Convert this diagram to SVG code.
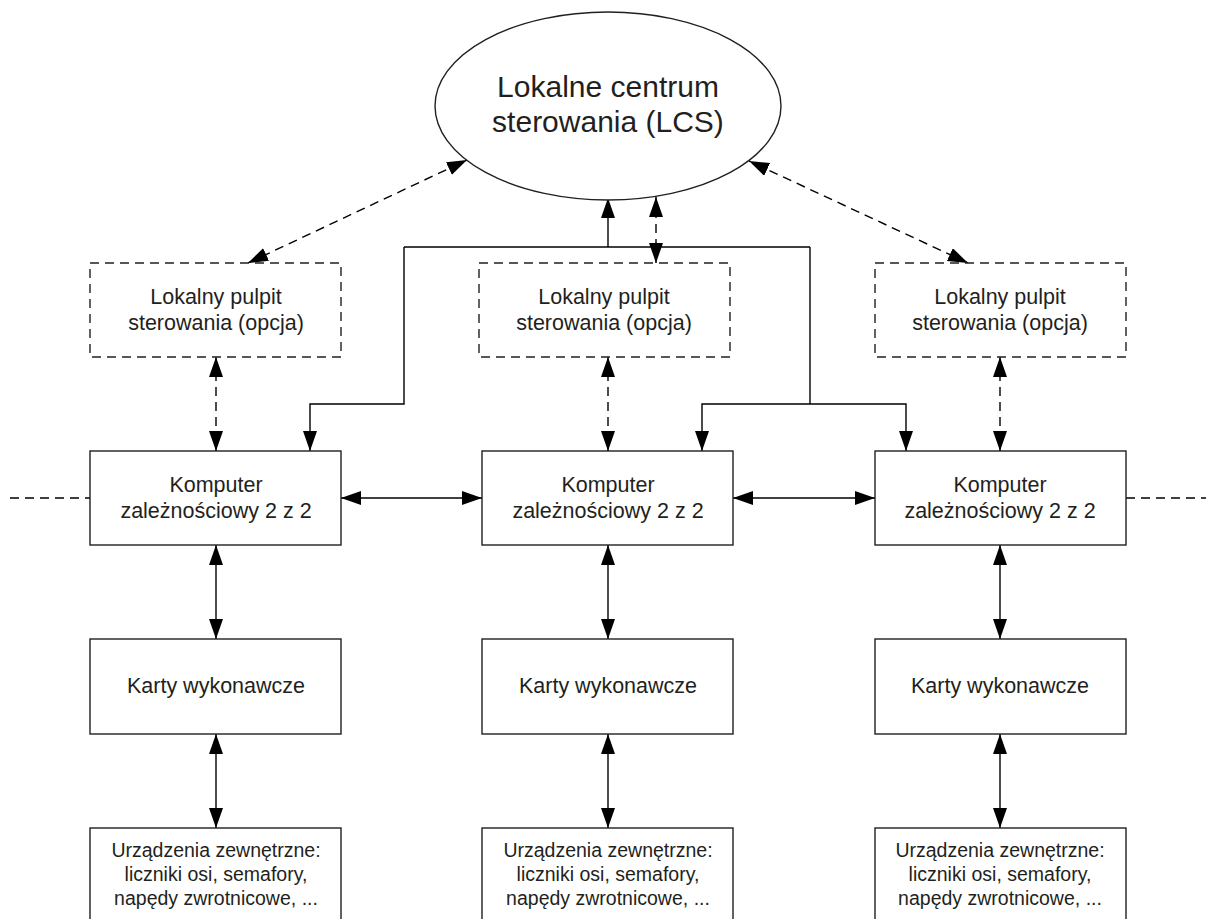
<svg xmlns="http://www.w3.org/2000/svg" width="1206" height="919" viewBox="0 0 1206 919">
<defs>
<marker id="ah" markerUnits="userSpaceOnUse" markerWidth="20" markerHeight="14" refX="20" refY="7" orient="auto-start-reverse">
<path d="M0,0 L20,7 L0,14 z" fill="#000"/>
</marker>
<style>
.box{fill:#fff;stroke:#231f20;stroke-width:1.4}
.opt{fill:#fff;stroke:#231f20;stroke-width:1.4;stroke-dasharray:9,6}
.ln{fill:none;stroke:#000;stroke-width:1.4}
.dl{fill:none;stroke:#000;stroke-width:1.4;stroke-dasharray:9,6}
text{font-family:"Liberation Sans",Arial,sans-serif;fill:#231f20;text-anchor:middle}
.t1{font-size:30px}
.t2{font-size:21.5px}
.t3{font-size:19.5px}
</style>
</defs>
<rect width="1206" height="919" fill="#fff"/>

<g id="connectors">
<!-- LCS trunk -->
<line class="ln" x1="608" y1="247" x2="608" y2="198" marker-end="url(#ah)"/>
<path class="ln" d="M404,247 L810,247"/>
<path class="ln" d="M404,247 L404,404 L310,404 L310,451" marker-end="url(#ah)"/>
<path class="ln" d="M810,247 L810,404"/>
<path class="ln" d="M702,451 L702,404 L906,404 L906,451" marker-start="url(#ah)" marker-end="url(#ah)"/>
<!-- LCS to pulpits -->
<line class="dl" x1="248" y1="263" x2="467" y2="160" marker-start="url(#ah)" marker-end="url(#ah)"/>
<line class="dl" x1="656" y1="263" x2="656" y2="197" marker-start="url(#ah)" marker-end="url(#ah)"/>
<line class="dl" x1="968" y1="263" x2="749" y2="161" marker-start="url(#ah)" marker-end="url(#ah)"/>
<!-- pulpit to computer -->
<line class="dl" x1="216" y1="357" x2="216" y2="451" marker-start="url(#ah)" marker-end="url(#ah)"/>
<line class="dl" x1="608" y1="357" x2="608" y2="451" marker-start="url(#ah)" marker-end="url(#ah)"/>
<line class="dl" x1="1000" y1="357" x2="1000" y2="451" marker-start="url(#ah)" marker-end="url(#ah)"/>
<!-- computer to computer -->
<line class="ln" x1="341" y1="498" x2="482" y2="498" marker-start="url(#ah)" marker-end="url(#ah)"/>
<line class="ln" x1="733" y1="498" x2="875" y2="498" marker-start="url(#ah)" marker-end="url(#ah)"/>
<line class="dl" x1="10" y1="498" x2="90" y2="498"/>
<line class="dl" x1="1126" y1="498" x2="1206" y2="498"/>
<!-- computer to karty -->
<line class="ln" x1="216" y1="545" x2="216" y2="639" marker-start="url(#ah)" marker-end="url(#ah)"/>
<line class="ln" x1="608" y1="545" x2="608" y2="639" marker-start="url(#ah)" marker-end="url(#ah)"/>
<line class="ln" x1="1000" y1="545" x2="1000" y2="639" marker-start="url(#ah)" marker-end="url(#ah)"/>
<!-- karty to urzadzenia -->
<line class="ln" x1="216" y1="734" x2="216" y2="828" marker-start="url(#ah)" marker-end="url(#ah)"/>
<line class="ln" x1="608" y1="734" x2="608" y2="828" marker-start="url(#ah)" marker-end="url(#ah)"/>
<line class="ln" x1="1000" y1="734" x2="1000" y2="828" marker-start="url(#ah)" marker-end="url(#ah)"/>
</g>

<g id="lcs">
<ellipse cx="608" cy="106" rx="173" ry="94" class="box"/>
<text class="t1" x="608" y="97">Lokalne centrum</text>
<text class="t1" x="608" y="132">sterowania (LCS)</text>
</g>

<g id="pulpit-1">
<rect class="opt" x="90" y="263" width="251" height="94"/>
<text class="t2" x="216" y="304">Lokalny pulpit</text>
<text class="t2" x="216" y="330">sterowania (opcja)</text>
</g>
<g id="pulpit-2">
<rect class="opt" x="479" y="263" width="251" height="94"/>
<text class="t2" x="604" y="304">Lokalny pulpit</text>
<text class="t2" x="604" y="330">sterowania (opcja)</text>
</g>
<g id="pulpit-3">
<rect class="opt" x="875" y="263" width="251" height="94"/>
<text class="t2" x="1000" y="304">Lokalny pulpit</text>
<text class="t2" x="1000" y="330">sterowania (opcja)</text>
</g>

<g id="komputer-1">
<rect class="box" x="90" y="451" width="251" height="94"/>
<text class="t2" x="216" y="492">Komputer</text>
<text class="t2" x="216" y="518">zależnościowy 2 z 2</text>
</g>
<g id="komputer-2">
<rect class="box" x="482" y="451" width="251" height="94"/>
<text class="t2" x="608" y="492">Komputer</text>
<text class="t2" x="608" y="518">zależnościowy 2 z 2</text>
</g>
<g id="komputer-3">
<rect class="box" x="875" y="451" width="251" height="94"/>
<text class="t2" x="1000" y="492">Komputer</text>
<text class="t2" x="1000" y="518">zależnościowy 2 z 2</text>
</g>

<g id="karty-1">
<rect class="box" x="90" y="639" width="251" height="95"/>
<text class="t2" x="216" y="693">Karty wykonawcze</text>
</g>
<g id="karty-2">
<rect class="box" x="482" y="639" width="251" height="95"/>
<text class="t2" x="608" y="693">Karty wykonawcze</text>
</g>
<g id="karty-3">
<rect class="box" x="875" y="639" width="251" height="95"/>
<text class="t2" x="1000" y="693">Karty wykonawcze</text>
</g>

<g id="urzadzenia-1">
<rect class="box" x="90" y="828" width="251" height="95"/>
<text class="t3" x="216" y="857">Urządzenia zewnętrzne:</text>
<text class="t3" x="216" y="881">liczniki osi, semafory,</text>
<text class="t3" x="216" y="905">napędy zwrotnicowe, ...</text>
</g>
<g id="urzadzenia-2">
<rect class="box" x="482" y="828" width="251" height="95"/>
<text class="t3" x="608" y="857">Urządzenia zewnętrzne:</text>
<text class="t3" x="608" y="881">liczniki osi, semafory,</text>
<text class="t3" x="608" y="905">napędy zwrotnicowe, ...</text>
</g>
<g id="urzadzenia-3">
<rect class="box" x="875" y="828" width="251" height="95"/>
<text class="t3" x="1000" y="857">Urządzenia zewnętrzne:</text>
<text class="t3" x="1000" y="881">liczniki osi, semafory,</text>
<text class="t3" x="1000" y="905">napędy zwrotnicowe, ...</text>
</g>
</svg>
